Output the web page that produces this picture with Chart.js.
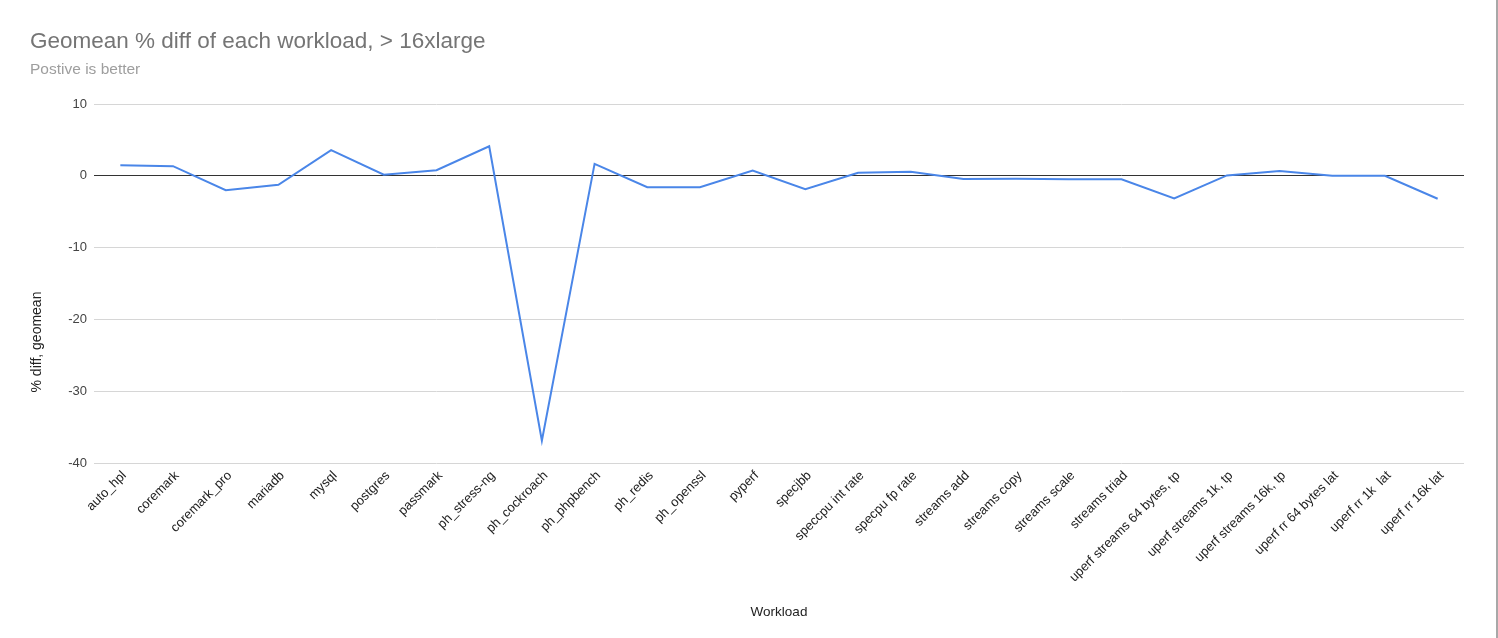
<!DOCTYPE html>
<html>
<head>
<meta charset="utf-8">
<script src="https://cdn.jsdelivr.net/npm/chart.js@4"></script>
<style>
  html, body { margin: 0; padding: 0; background: #fff; }
  #wrap { width: 1496px; height: 638px; border-right: 2px solid #a8a8a8; position: relative; }
  canvas { display: block; }
</style>
</head>
<body>
<div id="wrap"><canvas id="c" width="1496" height="638"></canvas></div>
<script>
const categories = [
  "auto_hpl", "coremark", "coremark_pro", "mariadb", "mysql", "postgres",
  "passmark", "ph_stress-ng", "ph_cockroach", "ph_phpbench", "ph_redis",
  "ph_openssl", "pyperf", "specjbb", "speccpu int rate", "specpu fp rate",
  "streams add", "streams copy", "streams scale", "streams triad",
  "uperf streams 64 bytes, tp", "uperf streams 1k, tp", "uperf streams 16k, tp",
  "uperf rr 64 bytes lat", "uperf rr 1k  lat", "uperf rr 16k lat"
];
const geomeanDiff = [
  1.48, 1.34, -2.0, -1.25, 3.57, 0.15,
  0.78, 4.12, -36.9, 1.67, -1.6,
  -1.6, 0.73, -1.87, 0.42, 0.55,
  -0.45, -0.42, -0.47, -0.48,
  -3.16, 0.05, 0.68,
  0.0, 0.0, -3.2
];
const yTicks = [10, 0, -10, -20, -30, -40];
const yAxisTitle = '% diff, geomean';

const FONT = "'Liberation Sans', Arial, sans-serif";

// Y-axis title, centred lower than the plot middle as in the reference
const yTitlePlugin = {
  id: 'yTitle',
  afterDraw(chart) {
    const { ctx, chartArea } = chart;
    const cy = chartArea.top + 0.663 * (chartArea.bottom - chartArea.top);
    ctx.save();
    ctx.translate(37, cy);
    ctx.rotate(-Math.PI / 2);
    ctx.font = '14px ' + FONT;
    ctx.fillStyle = '#222';
    ctx.textAlign = 'center';
    ctx.textBaseline = 'middle';
    ctx.fillText(yAxisTitle, 0, 0);
    ctx.restore();
  }
};

new Chart(document.getElementById('c'), {
  type: 'line',
  data: {
    labels: categories,
    datasets: [{
      label: yAxisTitle,
      data: geomeanDiff,
      borderColor: '#4a86e8',
      backgroundColor: '#4a86e8',
      borderWidth: 2,
      pointRadius: 0,
      tension: 0,
      fill: false
    }]
  },
  plugins: [yTitlePlugin],
  options: {
    responsive: false,
    animation: false,
    layout: { padding: { left: 30, right: 32, top: 20, bottom: 0 } },
    plugins: {
      legend: { display: false },
      tooltip: { enabled: false },
      title: {
        display: true,
        text: 'Geomean % diff of each workload, > 16xlarge',
        align: 'start',
        color: '#757575',
        font: { family: FONT, size: 22.5, weight: 'normal' },
        padding: { top: 8.5, bottom: 2 }
      },
      subtitle: {
        display: true,
        text: 'Postive is better',
        align: 'start',
        color: '#9e9e9e',
        font: { family: FONT, size: 15.5, weight: 'normal' },
        padding: { top: 3.2, bottom: 24.7 }
      }
    },
    scales: {
      x: {
        offset: true,
        grid: { display: false, drawTicks: false },
        border: { display: false },
        ticks: {
          autoSkip: false,
          maxRotation: 45,
          minRotation: 45,
          color: '#222',
          padding: 5,
          labelOffset: 4,
          font: { family: FONT, size: 13 }
        },
        title: {
          display: true,
          text: 'Workload',
          color: '#222',
          font: { family: FONT, size: 13.5 },
          padding: { top: 0, bottom: 18 }
        },
        afterFit: (s) => { s.height = 175; }
      },
      y: {
        min: -40,
        max: 10,
        afterBuildTicks: (s) => { s.ticks = yTicks.map(v => ({ value: v })); },
        grid: {
          drawTicks: false,
          color: (ctx) => (ctx.tick && ctx.tick.value === 0) ? '#333333' : '#d6d6d6',
          lineWidth: 1
        },
        border: { display: false },
        ticks: {
          color: '#444',
          padding: 7,
          font: { family: FONT, size: 13 }
        },
        afterFit: (s) => { s.width = 64; }
      }
    }
  }
});
</script>
</body>
</html>
